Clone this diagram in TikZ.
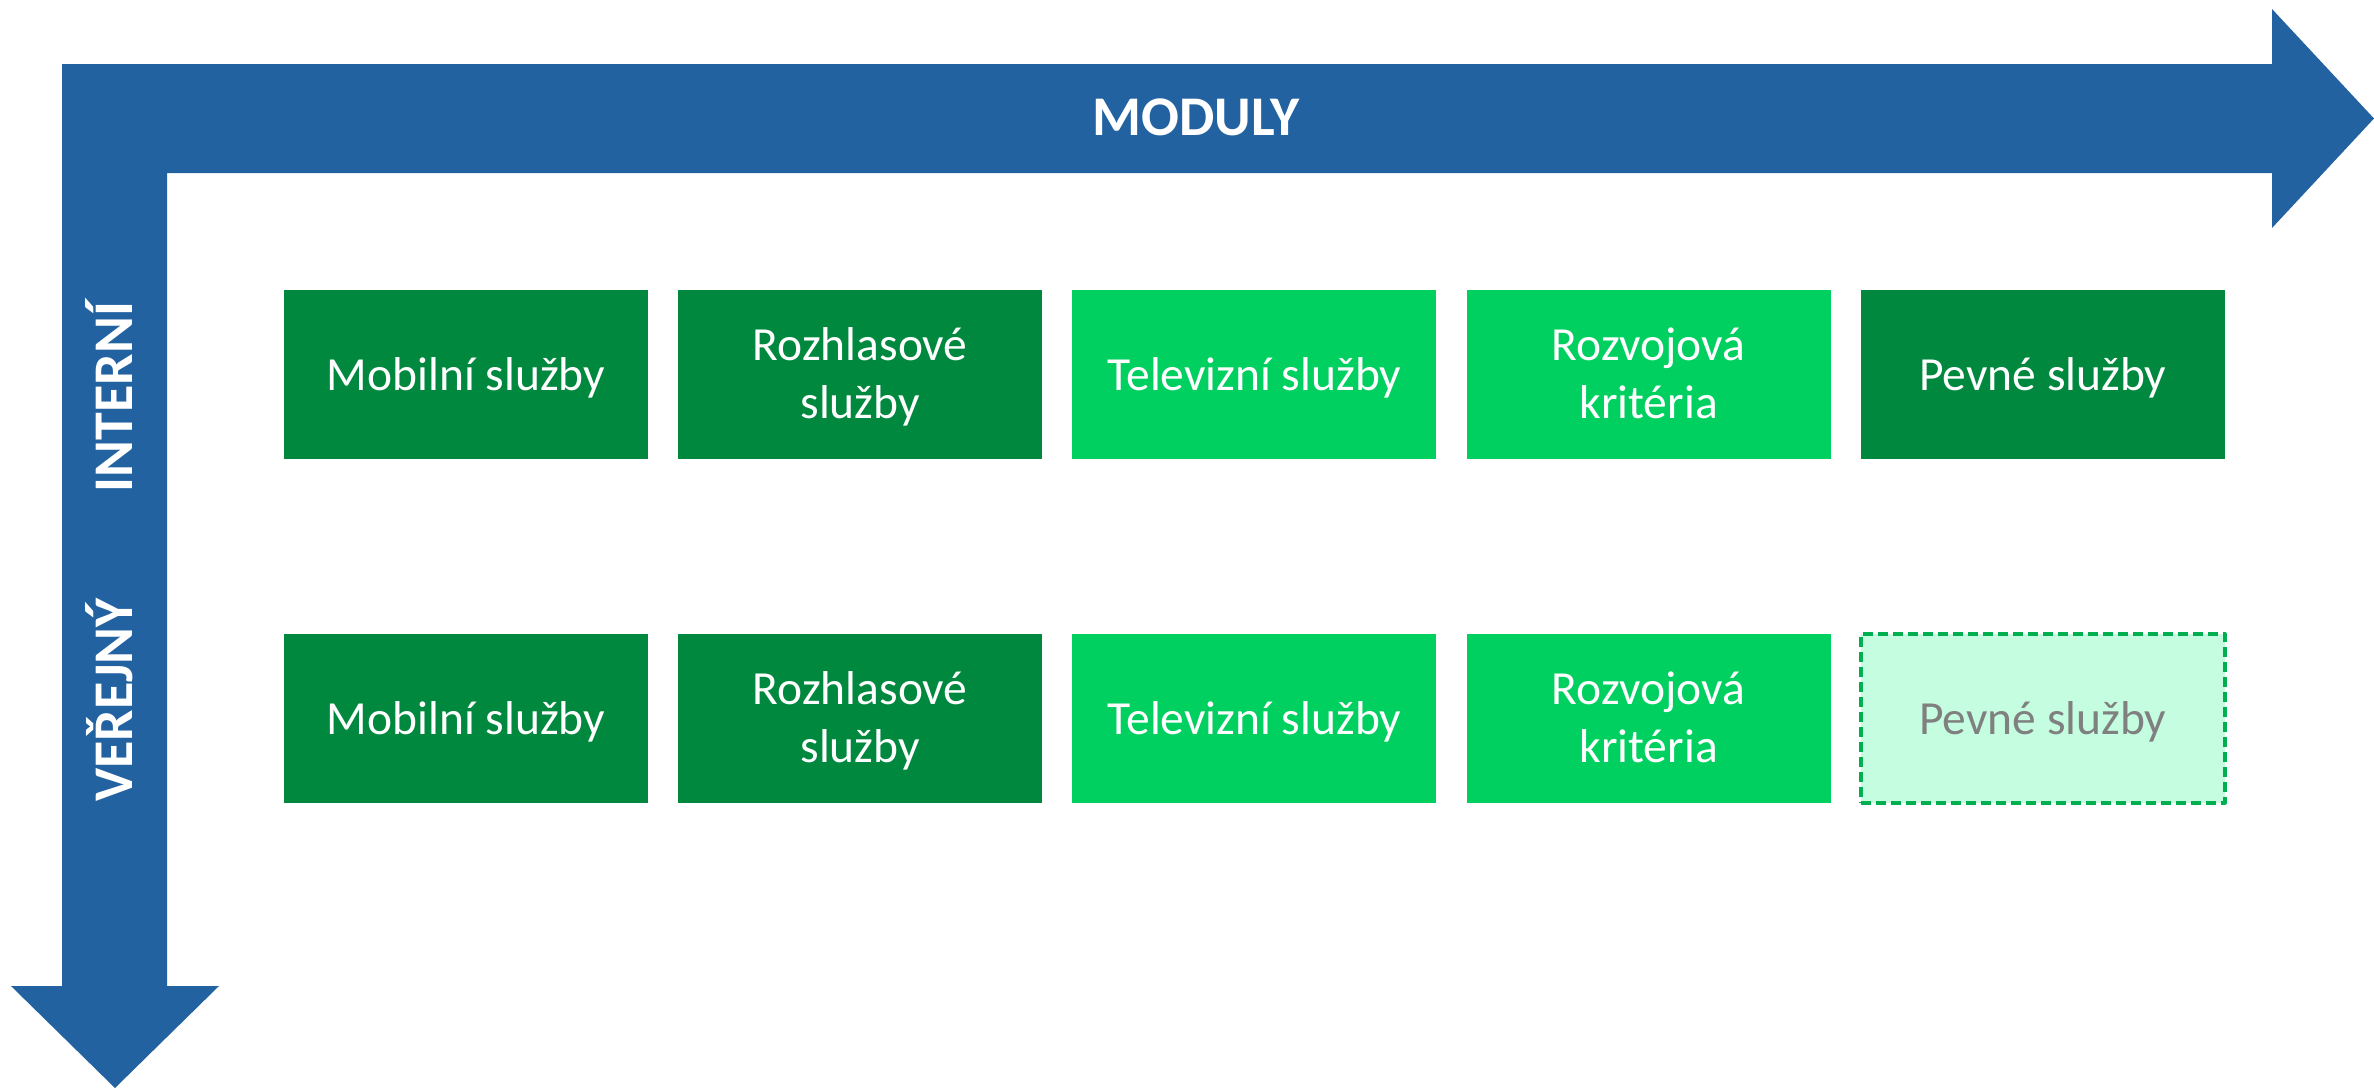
\documentclass[tikz,border=0pt]{standalone}
\usepackage{fontspec}
\setmainfont{Carlito}
\definecolor{axisblue}{RGB}{34,98,161}
\definecolor{dkgreen}{RGB}{0,137,62}
\definecolor{ltgreen}{RGB}{0,208,96}
\definecolor{palegreen}{RGB}{196,253,223}
\definecolor{dashgreen}{RGB}{0,176,80}
\definecolor{ghosttext}{RGB}{128,128,128}
\tikzset{
  axislabel/.style={font=\fontsize{56}{62}\selectfont\bfseries, text=white, text height=35pt, text depth=0pt, inner sep=0pt},
  modbox/.style={minimum width=364pt, minimum height=169pt, inner sep=0pt, outer sep=0pt},
  darkbox/.style={modbox, fill=dkgreen},
  litebox/.style={modbox, fill=ltgreen},
  ghostbox/.style={modbox, fill=palegreen, draw=dashgreen, line width=3.5pt, dash pattern=on 10pt off 5pt, line join=round},
  lbl/.style={anchor=base, text=white, font=\fontsize{47.5}{58}\selectfont, inner sep=0pt},
  ghostlbl/.style={lbl, text=ghosttext}
}
\begin{document}
\begin{tikzpicture}[x=1pt,y=-1pt]
\useasboundingbox (0,0) rectangle (2374,1088);
% L-shaped double arrow
\fill[axisblue] (62,64) -- (2272,64) -- (2272,9) -- (2374,118.5) -- (2272,228) -- (2272,173)
  -- (167,173) -- (167,986) -- (219,986) -- (115,1088) -- (11,986) -- (62,986) -- cycle;
\node[axislabel] (moduly) at (1196,118) {MODULY};
\node[axislabel, rotate=90] (interni) at (114.5,397) {INTERNÍ};
\node[axislabel, rotate=90] (verejny) at (114.5,700) {VEŘEJNÝ};
% row 1
\node[darkbox] (a1) at (466,374.5) {};
\node[darkbox] (a2) at (860.2,374.5) {};
\node[litebox] (a3) at (1254.4,374.5) {};
\node[litebox] (a4) at (1648.6,374.5) {};
\node[darkbox] (a5) at (2042.8,374.5) {};
% row 2
\node[darkbox] (b1) at (466,718.5) {};
\node[darkbox] (b2) at (860.2,718.5) {};
\node[litebox] (b3) at (1254.4,718.5) {};
\node[litebox] (b4) at (1648.6,718.5) {};
\node[ghostbox] (b5) at (2042.8,718.5) {};
% texts row 1
\node[lbl] (ta1) at ([yshift=-16pt]a1.center) {Mobilní služby};
\node[lbl] (ta2u) at ([yshift=14pt]a2.center) {Rozhlasové};
\node[lbl] (ta2l) at ([yshift=-44pt]a2.center) {služby};
\node[lbl] (ta3) at ([yshift=-16pt]a3.center) {Televizní služby};
\node[lbl] (ta4u) at ([yshift=14pt]a4.center) {Rozvojová};
\node[lbl] (ta4l) at ([yshift=-44pt]a4.center) {kritéria};
\node[lbl] (ta5) at ([yshift=-16pt]a5.center) {Pevné služby};
% texts row 2
\node[lbl] (tb1) at ([yshift=-16pt]b1.center) {Mobilní služby};
\node[lbl] (tb2u) at ([yshift=14pt]b2.center) {Rozhlasové};
\node[lbl] (tb2l) at ([yshift=-44pt]b2.center) {služby};
\node[lbl] (tb3) at ([yshift=-16pt]b3.center) {Televizní služby};
\node[lbl] (tb4u) at ([yshift=14pt]b4.center) {Rozvojová};
\node[lbl] (tb4l) at ([yshift=-44pt]b4.center) {kritéria};
\node[ghostlbl] (tb5) at ([yshift=-16pt]b5.center) {Pevné služby};
\end{tikzpicture}
\end{document}
